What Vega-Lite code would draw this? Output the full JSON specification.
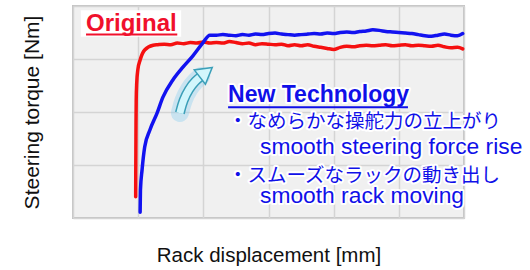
{
  "$schema": "https://vega.github.io/schema/vega-lite/v6.json",
  "width": 391,
  "height": 212,
  "autosize": {"type": "none"},
  "padding": {"left": 73, "top": 6, "right": 66, "bottom": 52},
  "background": "white",
  "config": {
    "view": {"fill": "#f0f0f0", "stroke": "#c4c4c4", "strokeWidth": 2},
    "axis": {"labels": false, "ticks": false, "domain": false, "gridColor": "#d4d4d4", "gridWidth": 1.5, "gridOpacity": 1,
      "titleFont": "Liberation Sans", "titleFontSize": 20.5, "titleFontWeight": "normal", "titleColor": "#111111"}
  },
  "datasets": {
    "curves": [
      {"s": "Original", "x": 0.962, "y": 0.40},
      {"s": "Original", "x": 0.963, "y": 0.8},
      {"s": "Original", "x": 0.965, "y": 1.28},
      {"s": "Original", "x": 0.967, "y": 1.8},
      {"s": "Original", "x": 0.97, "y": 2.23},
      {"s": "Original", "x": 0.978, "y": 2.55},
      {"s": "Original", "x": 0.995, "y": 2.8},
      {"s": "Original", "x": 1.03, "y": 2.98},
      {"s": "Original", "x": 1.10, "y": 3.17},
      {"s": "Original", "x": 1.23, "y": 3.26},
      {"s": "Original", "x": 1.3, "y": 3.27},
      {"s": "Original", "x": 1.4, "y": 3.28},
      {"s": "Original", "x": 1.5, "y": 3.27},
      {"s": "Original", "x": 1.6, "y": 3.30},
      {"s": "Original", "x": 1.7, "y": 3.29},
      {"s": "Original", "x": 1.8, "y": 3.31},
      {"s": "Original", "x": 1.9, "y": 3.30},
      {"s": "Original", "x": 2.0, "y": 3.32},
      {"s": "Original", "x": 2.1, "y": 3.30},
      {"s": "Original", "x": 2.2, "y": 3.31},
      {"s": "Original", "x": 2.3, "y": 3.30},
      {"s": "Original", "x": 2.4, "y": 3.33},
      {"s": "Original", "x": 2.5, "y": 3.31},
      {"s": "Original", "x": 2.6, "y": 3.29},
      {"s": "Original", "x": 2.7, "y": 3.30},
      {"s": "Original", "x": 2.8, "y": 3.27},
      {"s": "Original", "x": 2.9, "y": 3.29},
      {"s": "Original", "x": 3.0, "y": 3.28},
      {"s": "Original", "x": 3.1, "y": 3.27},
      {"s": "Original", "x": 3.2, "y": 3.28},
      {"s": "Original", "x": 3.3, "y": 3.25},
      {"s": "Original", "x": 3.4, "y": 3.27},
      {"s": "Original", "x": 3.5, "y": 3.25},
      {"s": "Original", "x": 3.6, "y": 3.27},
      {"s": "Original", "x": 3.7, "y": 3.24},
      {"s": "Original", "x": 3.8, "y": 3.22},
      {"s": "Original", "x": 3.9, "y": 3.20},
      {"s": "Original", "x": 4.0, "y": 3.18},
      {"s": "Original", "x": 4.1, "y": 3.22},
      {"s": "Original", "x": 4.2, "y": 3.24},
      {"s": "Original", "x": 4.3, "y": 3.23},
      {"s": "Original", "x": 4.4, "y": 3.25},
      {"s": "Original", "x": 4.5, "y": 3.26},
      {"s": "Original", "x": 4.6, "y": 3.25},
      {"s": "Original", "x": 4.7, "y": 3.26},
      {"s": "Original", "x": 4.8, "y": 3.27},
      {"s": "Original", "x": 4.9, "y": 3.25},
      {"s": "Original", "x": 5.0, "y": 3.26},
      {"s": "Original", "x": 5.1, "y": 3.27},
      {"s": "Original", "x": 5.2, "y": 3.25},
      {"s": "Original", "x": 5.3, "y": 3.26},
      {"s": "Original", "x": 5.4, "y": 3.25},
      {"s": "Original", "x": 5.5, "y": 3.24},
      {"s": "Original", "x": 5.6, "y": 3.26},
      {"s": "Original", "x": 5.7, "y": 3.23},
      {"s": "Original", "x": 5.8, "y": 3.21},
      {"s": "Original", "x": 5.9, "y": 3.22},
      {"s": "Original", "x": 5.98, "y": 3.19},
      {"s": "New", "x": 1.03, "y": 0.11},
      {"s": "New", "x": 1.035, "y": 0.53},
      {"s": "New", "x": 1.06, "y": 0.91},
      {"s": "New", "x": 1.10, "y": 1.34},
      {"s": "New", "x": 1.18, "y": 1.66},
      {"s": "New", "x": 1.29, "y": 1.98},
      {"s": "New", "x": 1.38, "y": 2.28},
      {"s": "New", "x": 1.53, "y": 2.60},
      {"s": "New", "x": 1.69, "y": 2.85},
      {"s": "New", "x": 1.84, "y": 3.06},
      {"s": "New", "x": 1.99, "y": 3.30},
      {"s": "New", "x": 2.10, "y": 3.45},
      {"s": "New", "x": 2.2, "y": 3.45},
      {"s": "New", "x": 2.3, "y": 3.46},
      {"s": "New", "x": 2.4, "y": 3.45},
      {"s": "New", "x": 2.5, "y": 3.44},
      {"s": "New", "x": 2.6, "y": 3.46},
      {"s": "New", "x": 2.7, "y": 3.45},
      {"s": "New", "x": 2.8, "y": 3.47},
      {"s": "New", "x": 2.9, "y": 3.46},
      {"s": "New", "x": 3.0, "y": 3.48},
      {"s": "New", "x": 3.1, "y": 3.49},
      {"s": "New", "x": 3.2, "y": 3.47},
      {"s": "New", "x": 3.3, "y": 3.46},
      {"s": "New", "x": 3.4, "y": 3.45},
      {"s": "New", "x": 3.5, "y": 3.46},
      {"s": "New", "x": 3.6, "y": 3.47},
      {"s": "New", "x": 3.7, "y": 3.48},
      {"s": "New", "x": 3.8, "y": 3.47},
      {"s": "New", "x": 3.9, "y": 3.49},
      {"s": "New", "x": 4.0, "y": 3.48},
      {"s": "New", "x": 4.1, "y": 3.50},
      {"s": "New", "x": 4.2, "y": 3.51},
      {"s": "New", "x": 4.3, "y": 3.50},
      {"s": "New", "x": 4.4, "y": 3.52},
      {"s": "New", "x": 4.5, "y": 3.53},
      {"s": "New", "x": 4.6, "y": 3.55},
      {"s": "New", "x": 4.7, "y": 3.54},
      {"s": "New", "x": 4.8, "y": 3.52},
      {"s": "New", "x": 4.9, "y": 3.51},
      {"s": "New", "x": 5.0, "y": 3.50},
      {"s": "New", "x": 5.1, "y": 3.49},
      {"s": "New", "x": 5.2, "y": 3.48},
      {"s": "New", "x": 5.3, "y": 3.46},
      {"s": "New", "x": 5.4, "y": 3.44},
      {"s": "New", "x": 5.5, "y": 3.43},
      {"s": "New", "x": 5.6, "y": 3.45},
      {"s": "New", "x": 5.7, "y": 3.47},
      {"s": "New", "x": 5.8, "y": 3.45},
      {"s": "New", "x": 5.9, "y": 3.44},
      {"s": "New", "x": 5.98, "y": 3.48}
    ],
    "arrow": [
      {"x": 1.64, "y": 1.98},
      {"x": 1.69, "y": 2.22},
      {"x": 1.78, "y": 2.44},
      {"x": 1.88, "y": 2.59},
      {"x": 1.97, "y": 2.68}
    ],
    "head": [{"x": 2.01, "y": 2.72}],
    "box": [{"x": 0.12, "x2": 1.66, "y": 3.42, "y2": 3.92}],
    "title1": [{"t": "Original", "x": 0.2, "y": 3.52, "x2": 1.6, "yu": 3.46}],
    "title2": [{"t": "New Technology", "x": 2.38, "y": 2.19, "x2": 5.14, "yu": 2.09}],
    "jp": [
      {"t": "・なめらかな操舵力の立上がり", "x": 2.38, "y": 1.81},
      {"t": "・スムーズなラックの動き出し", "x": 2.38, "y": 0.79}
    ],
    "en": [
      {"t": "smooth steering force rise", "x": 2.87, "y": 1.21},
      {"t": "smooth rack moving", "x": 2.87, "y": 0.28}
    ]
  },
  "encoding": {
    "x": {"field": "x", "type": "quantitative", "scale": {"domain": [0, 6], "nice": false, "zero": false},
      "axis": {"values": [0, 1, 2, 3, 4, 5, 6], "title": "Rack displacement [mm]", "titlePadding": 27}},
    "y": {"field": "y", "type": "quantitative", "scale": {"domain": [0, 4], "nice": false, "zero": false},
      "axis": {"values": [0, 1, 2, 3, 4], "title": "Steering torque [Nm]", "titlePadding": 31, "titleFontSize": 21}}
  },
  "layer": [
    {
      "data": {"name": "curves"},
      "mark": {"type": "line", "strokeWidth": 3.5, "strokeJoin": "round", "strokeCap": "round", "interpolate": "monotone"},
      "encoding": {
        "color": {"field": "s", "type": "nominal", "scale": {"domain": ["Original", "New"], "range": ["#f51010", "#1212f0"]}, "legend": null},
        "order": {"field": "x", "type": "quantitative"},
        "detail": {"field": "s"}
      }
    },
    {
      "data": {"name": "arrow"},
      "mark": {"type": "line", "strokeWidth": 18, "color": "#8fd0f0", "opacity": 0.4, "strokeCap": "round", "interpolate": "basis"},
      "encoding": {}
    },
    {
      "data": {"name": "arrow"},
      "mark": {"type": "line", "strokeWidth": 10, "color": "#3b9fb8", "strokeCap": "butt", "interpolate": "basis"},
      "encoding": {}
    },
    {
      "data": {"name": "arrow"},
      "mark": {"type": "line", "strokeWidth": 7, "color": "#d2f6fc", "strokeCap": "butt", "interpolate": "basis"},
      "encoding": {}
    },
    {
      "data": {"name": "head"},
      "mark": {"type": "point", "shape": "triangle", "size": 330, "angle": 52, "filled": true, "fill": "#d2f6fc", "stroke": "#3b9fb8", "strokeWidth": 1.5, "opacity": 1},
      "encoding": {}
    },
    {
      "data": {"name": "box"},
      "mark": {"type": "rect", "fill": "white"},
      "encoding": {"x2": {"field": "x2"}, "y2": {"field": "y2"}}
    },
    {
      "data": {"name": "title1"},
      "mark": {"type": "text", "align": "left", "baseline": "alphabetic", "font": "Liberation Sans", "fontSize": 24, "fontWeight": "bold", "fill": "#f0102c"},
      "encoding": {"text": {"field": "t"}}
    },
    {
      "data": {"name": "title1"},
      "mark": {"type": "rule", "strokeWidth": 2, "color": "#f0102c"},
      "encoding": {"x2": {"field": "x2"}, "y": {"field": "yu", "type": "quantitative"}}
    },
    {
      "data": {"name": "title2"},
      "mark": {"type": "text", "align": "left", "baseline": "alphabetic", "font": "Liberation Sans", "fontSize": 23, "fontWeight": "bold", "stroke": "white", "strokeWidth": 4, "strokeJoin": "round", "fill": "white"},
      "encoding": {"text": {"field": "t"}}
    },
    {
      "data": {"name": "title2"},
      "mark": {"type": "text", "align": "left", "baseline": "alphabetic", "font": "Liberation Sans", "fontSize": 23, "fontWeight": "bold", "fill": "#1010e8"},
      "encoding": {"text": {"field": "t"}}
    },
    {
      "data": {"name": "title2"},
      "mark": {"type": "rule", "strokeWidth": 2, "color": "#1010e8"},
      "encoding": {"x2": {"field": "x2"}, "y": {"field": "yu", "type": "quantitative"}}
    },
    {
      "data": {"name": "jp"},
      "mark": {"type": "text", "align": "left", "baseline": "middle", "font": "Noto Sans CJK JP", "fontSize": 19.5, "stroke": "white", "strokeWidth": 4, "strokeJoin": "round", "fill": "white"},
      "encoding": {"text": {"field": "t"}}
    },
    {
      "data": {"name": "jp"},
      "mark": {"type": "text", "align": "left", "baseline": "middle", "font": "Noto Sans CJK JP", "fontSize": 19.5, "fill": "#1010e8"},
      "encoding": {"text": {"field": "t"}}
    },
    {
      "data": {"name": "en"},
      "mark": {"type": "text", "align": "left", "baseline": "alphabetic", "font": "Liberation Sans", "fontSize": 22.8, "stroke": "white", "strokeWidth": 4, "strokeJoin": "round", "fill": "white"},
      "encoding": {"text": {"field": "t"}}
    },
    {
      "data": {"name": "en"},
      "mark": {"type": "text", "align": "left", "baseline": "alphabetic", "font": "Liberation Sans", "fontSize": 22.8, "fill": "#1010e8"},
      "encoding": {"text": {"field": "t"}}
    }
  ]
}
